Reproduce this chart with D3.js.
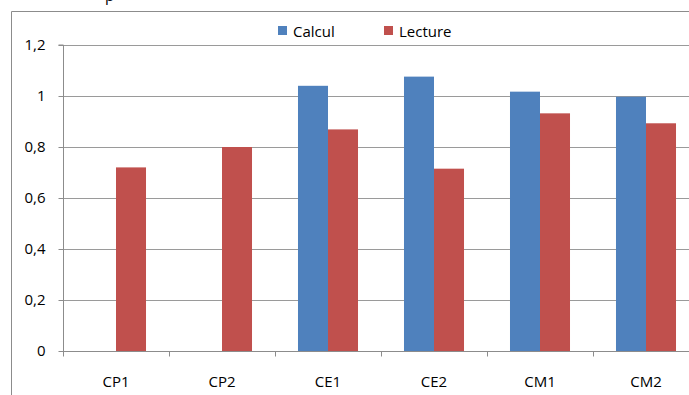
<!DOCTYPE html>
<html><head><meta charset="utf-8">
<script src="https://cdn.jsdelivr.net/npm/d3@7"></script>
<style>body{margin:0;background:#fff;}svg{display:block;font-family:"Open Sans",sans-serif;}</style>
</head><body><svg id="c" width="689" height="395"></svg>
<script>
const categories = ["CP1","CP2","CE1","CE2","CM1","CM2"];
const seriesNames = ["Calcul","Lecture"];
const calcul = [null, null, 1.04, 1.076, 1.017, 0.997];
const lecture = [0.72, 0.80, 0.869, 0.715, 0.932, 0.893];
const yTicks = [0, 0.2, 0.4, 0.6, 0.8, 1, 1.2];
const colors = ["#4F81BD", "#C0504D"];

const svg = d3.select("#c");
const mLeft = 63, mRight = 699, mTop = 45, mBottom = 351;
// outer frame
svg.append("path").attr("d", "M11.5,400V11.5H700").attr("fill","none").attr("stroke","#8c8c8c").attr("stroke-width",1);
// clipped title remnant at top edge
svg.append("text").attr("x", 105).attr("y", 0.5).attr("font-size", 15).attr("fill", "#000").text("p");

const x = d3.scaleBand().domain(categories).range([mLeft, mRight]);
const y = d3.scaleLinear().domain([0, 1.2]).range([mBottom, mTop]);
const xs = d3.scaleBand().domain(seriesNames).range([0, x.bandwidth()]).paddingInner(0).paddingOuter(0.766);

// gridlines
svg.append("g").selectAll("line").data(yTicks.filter(d => d > 0)).join("line")
  .attr("x1", mLeft).attr("x2", mRight)
  .attr("y1", d => Math.round(y(d)) + 0.5).attr("y2", d => Math.round(y(d)) + 0.5)
  .attr("stroke", "#9a9a9a").attr("stroke-width", 1);

// bars
const data = [calcul, lecture];
data.forEach((vals, si) => {
  svg.append("g").selectAll("rect").data(categories.map((c, i) => ({c, v: vals[i]})).filter(d => d.v != null))
    .join("rect")
    .attr("x", d => x(d.c) + xs(seriesNames[si]))
    .attr("width", xs.bandwidth())
    .attr("y", d => y(d.v))
    .attr("height", d => y(0) - y(d.v))
    .attr("fill", colors[si]);
});

// y axis
const ya = svg.append("g").attr("transform", `translate(${mLeft + 0.5},0)`)
  .call(d3.axisLeft(y).tickValues(yTicks).tickSize(5).tickPadding(13)
    .tickFormat(d => String(d).replace(".", ",")));
ya.select(".domain").attr("stroke", "#8c8c8c").attr("d", `M-5,${mTop}H0V${mBottom}`);
ya.selectAll(".tick line").attr("stroke", "#8c8c8c");
ya.selectAll("text").attr("font-size", 15).attr("fill", "#000").attr("font-family", "Open Sans");

// x axis
const xa = svg.append("g").attr("transform", `translate(0,${mBottom + 0.5})`);
xa.append("line").attr("x1", mLeft).attr("x2", mRight).attr("stroke", "#8c8c8c");
xa.selectAll(".tk").data(categories.map((c,i)=>i)).join("line").attr("class","tk")
  .attr("x1", i => Math.round(mLeft + i * x.step()) + 0.5).attr("x2", i => Math.round(mLeft + i * x.step()) + 0.5)
  .attr("y1", 0).attr("y2", 5).attr("stroke", "#8c8c8c");
xa.selectAll("text").data(categories).join("text")
  .attr("x", d => x(d) + x.bandwidth() / 2).attr("y", 35.5)
  .attr("text-anchor", "middle").attr("font-size", 15).attr("fill", "#000").text(d => d);

// legend
const leg = [{n: "Calcul", x: 278}, {n: "Lecture", x: 384}];
leg.forEach((l, i) => {
  svg.append("rect").attr("x", l.x).attr("y", 26).attr("width", 9).attr("height", 9).attr("fill", colors[i]);
  svg.append("text").attr("x", l.x + 15).attr("y", 36.5).attr("font-size", 15).attr("fill", "#000").text(l.n);
});
</script></body></html>
